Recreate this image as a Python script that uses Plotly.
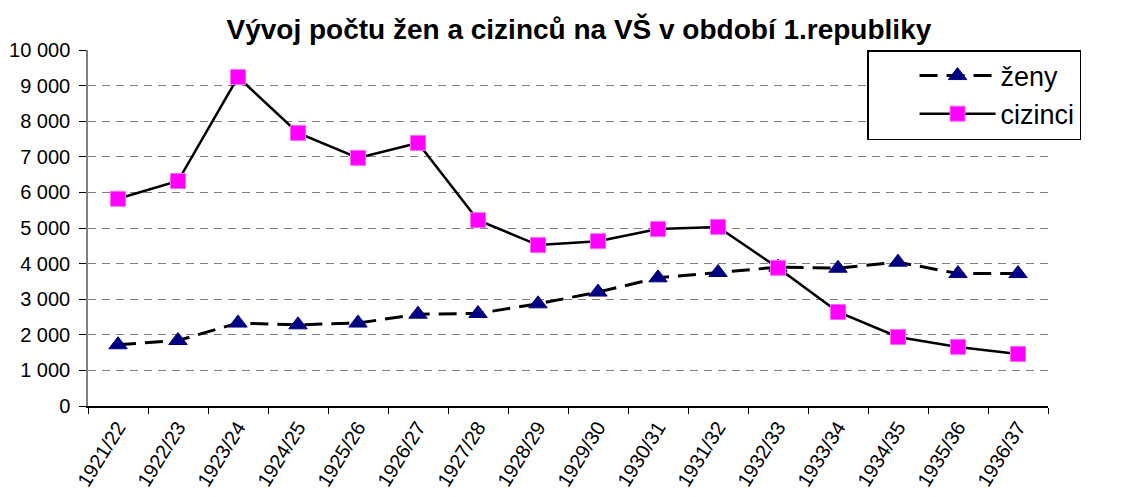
import plotly.graph_objects as go

years = ["1921/22", "1922/23", "1923/24", "1924/25", "1925/26", "1926/27", "1927/28", "1928/29",
         "1929/30", "1930/31", "1931/32", "1932/33", "1933/34", "1934/35", "1935/36", "1936/37"]
zeny = [1720, 1840, 2330, 2280, 2330, 2580, 2600, 2870, 3200, 3600, 3750, 3900, 3870, 4040, 3720, 3720]
cizinci = [5820, 6320, 9240, 7670, 6970, 7390, 5220, 4520, 4630, 4970, 5030, 3880, 2640, 1940, 1660, 1460]
y_ticks = list(range(0, 10001, 1000))

FONT = "Liberation Sans, Arial, sans-serif"

fig = go.Figure()
fig.add_trace(go.Scatter(
    x=years, y=zeny, name="ženy", mode="lines+markers",
    line=dict(color="black", width=3, dash="18px,9px"),
    marker=dict(symbol="triangle-up", size=16, color="#000080", line=dict(color="#000080", width=1)),
))
fig.add_trace(go.Scatter(
    x=years, y=cizinci, name="cizinci", mode="lines+markers",
    line=dict(color="black", width=2.5),
    marker=dict(symbol="square", size=15, color="#FF00FF", line=dict(color="#FF66FF", width=1)),
))

fig.update_layout(
    width=1126, height=497,
    margin=dict(l=80, r=86, t=42, b=99),
    paper_bgcolor="white", plot_bgcolor="white",
    font=dict(family=FONT, size=20, color="black"),
    separators=", ",
    title=dict(text="<b>Vývoj počtu žen a cizinců na VŠ v období 1.republiky</b>",
               x=0.507, xanchor="center", y=0.958, yanchor="middle",
               font=dict(family=FONT, size=28, color="black")),
    showlegend=True,
    legend=dict(x=0.8115, y=1.0, xanchor="left", yanchor="top",
                bordercolor="black", borderwidth=1.5, bgcolor="white",
                font=dict(family=FONT, size=27), itemwidth=76, indentation=46),
)
fig.update_xaxes(
    type="category", showgrid=False, showline=True, linecolor="black", linewidth=1.5,
    ticks="outside", ticklen=6, tickcolor="black", tickson="boundaries",
    tickangle=-58, tickfont=dict(family=FONT, size=20), automargin=False,
    range=[-0.5, len(years) - 0.5],
)
fig.update_yaxes(
    range=[0, 10000], tickvals=y_ticks, tickformat=",d",
    showgrid=True, gridcolor="#7f7f7f", griddash="8px,6px", gridwidth=1,
    showline=True, linecolor="#808080", linewidth=1.5,
    ticks="outside", ticklen=7, tickcolor="black", ticklabelstandoff=5,
    tickfont=dict(family=FONT, size=20), zeroline=False, automargin=False,
)

fig.write_html("out.html")
